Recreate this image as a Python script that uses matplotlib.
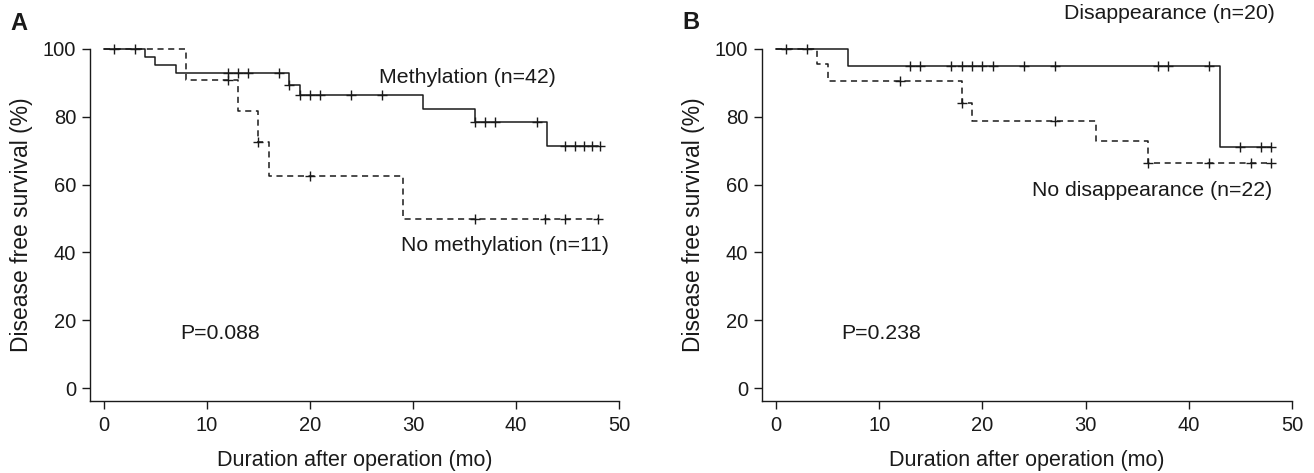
import matplotlib.pyplot as plt
import numpy as np

plt.rcParams['font.family'] = ['Liberation Sans', 'DejaVu Sans']
plt.rcParams['font.size'] = 14.5

# Panel A: methylation
a_met_t = [0, 4, 5, 7, 18, 19, 31, 36, 43, 48]
a_met_s = [100, 97.6, 95.2, 92.9, 89.5, 86.3, 82.4, 78.5, 71.4, 71.4]
a_met_cens = [1, 3, 12, 13, 14, 17, 18, 19, 20, 21, 24, 27, 36, 37, 38, 42, 44.8, 45.7, 46.6, 47.4, 48.2]

a_no_t = [0, 8, 13, 15, 16, 29, 48]
a_no_s = [100, 90.9, 81.8, 72.7, 62.5, 50, 50]
a_no_cens = [12, 15, 20, 36, 42.8, 44.8, 48]

# Panel B: disappearance
b_dis_t = [0, 7, 43, 48]
b_dis_s = [100, 95, 71.2, 71.2]
b_dis_cens = [1, 3, 13, 14, 17, 18, 19, 20, 21, 24, 27, 37, 38, 42, 45, 47, 48]

b_no_t = [0, 4, 5, 18, 19, 31, 36, 48]
b_no_s = [100, 95.5, 90.5, 84.2, 78.9, 72.8, 66.4, 66.4]
b_no_cens = [12, 18, 27, 36, 42, 46, 48]

ink = '#1a1a1a'


def level(t, s, x):
    i = np.searchsorted(t, x, side='right') - 1
    return np.array(s)[i]


def curve(ax, t, s, cens, ls):
    ax.plot(t, s, drawstyle='steps-post', color=ink, lw=1.1,
            linestyle=ls, clip_on=False)
    ax.plot(cens, level(t, s, cens), '+', color=ink, ms=6.5, mew=1.0,
            clip_on=False)


def style(ax):
    ax.set_xlim(-1.35, 50)
    ax.set_ylim(-3.8, 100)
    ax.spines['top'].set_visible(False)
    ax.spines['right'].set_visible(False)
    for sp in ['left', 'bottom']:
        ax.spines[sp].set_color(ink)
        ax.spines[sp].set_linewidth(1.0)
    ax.set_xticks([0, 10, 20, 30, 40, 50])
    ax.set_yticks([0, 20, 40, 60, 80, 100])
    ax.tick_params(direction='out', length=5.5, width=1.0, color=ink,
                   labelcolor=ink)
    ax.tick_params(axis='x', pad=5)
    ax.tick_params(axis='y', pad=4.5)
    ax.set_xlabel('Duration after operation (mo)', color=ink, labelpad=11, fontsize=15.5)
    ax.set_ylabel('Disease free survival (%)', color=ink, labelpad=7, fontsize=16.5)


fig = plt.figure(figsize=(13.14, 4.73), dpi=100)
axA = fig.add_axes([90 / 1314, 72 / 473, 529 / 1314, 352 / 473])
axB = fig.add_axes([762 / 1314, 72 / 473, 530 / 1314, 352 / 473])

dash = (0, (4, 3))
ann = 15.3
curve(axA, a_met_t, a_met_s, a_met_cens, '-')
curve(axA, a_no_t, a_no_s, a_no_cens, dash)
style(axA)
axA.text(35.3, 91.7, 'Methylation (n=42)', ha='center', va='center', color=ink, fontsize=ann)
axA.text(38.9, 42.2, 'No methylation (n=11)', ha='center', va='center', color=ink, fontsize=ann)
axA.text(11.3, 16.2, 'P=0.088', ha='center', va='center', color=ink, fontsize=ann)

curve(axB, b_dis_t, b_dis_s, b_dis_cens, '-')
curve(axB, b_no_t, b_no_s, b_no_cens, dash)
style(axB)
axB.text(38.1, 110.5, 'Disappearance (n=20)', ha='center', va='center', color=ink, fontsize=ann)
axB.text(36.4, 58.4, 'No disappearance (n=22)', ha='center', va='center', color=ink, fontsize=ann)
axB.text(10.2, 16.2, 'P=0.238', ha='center', va='center', color=ink, fontsize=ann)

fig.text(19 / 1314, 1 - 23.5 / 473, 'A', fontsize=17, fontweight='bold', ha='center', va='center', color=ink)
fig.text(691 / 1314, 1 - 22.5 / 473, 'B', fontsize=17, fontweight='bold', ha='center', va='center', color=ink)

fig.savefig('out.png', dpi=100)
